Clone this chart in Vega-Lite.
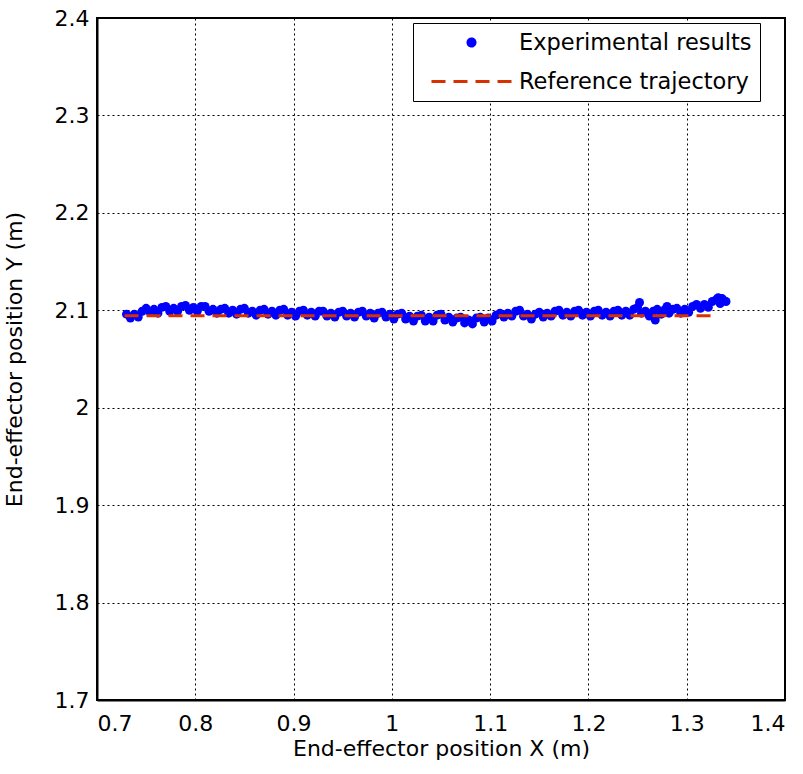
{
  "$schema": "https://vega.github.io/schema/vega-lite/v6.json",
  "width": 688,
  "height": 682,
  "autosize": "none",
  "padding": {"left": 97, "top": 18, "right": 18, "bottom": 74},
  "background": "white",
  "config": {
    "font": "DejaVu Sans",
    "view": {"stroke": "black", "strokeWidth": 2},
    "axis": {
      "grid": true,
      "gridColor": "black",
      "gridDash": [2, 3],
      "gridWidth": 1,
      "gridOpacity": 1,
      "domainColor": "black",
      "domainWidth": 2,
      "tickSize": 0,
      "labelFont": "DejaVu Sans",
      "labelFontSize": 22,
      "labelColor": "black",
      "titleFont": "DejaVu Sans",
      "titleFontSize": 22,
      "titleFontWeight": "normal",
      "titleColor": "black"
    }
  },
  "datasets": {
    "exp": [
      {"x": 0.730, "y": 2.096}, {"x": 0.734, "y": 2.092}, {"x": 0.738, "y": 2.096}, {"x": 0.742, "y": 2.093}, {"x": 0.746, "y": 2.099},
      {"x": 0.750, "y": 2.102}, {"x": 0.754, "y": 2.098}, {"x": 0.758, "y": 2.101}, {"x": 0.762, "y": 2.097}, {"x": 0.766, "y": 2.103},
      {"x": 0.770, "y": 2.104}, {"x": 0.774, "y": 2.099}, {"x": 0.778, "y": 2.102}, {"x": 0.782, "y": 2.099}, {"x": 0.786, "y": 2.104},
      {"x": 0.790, "y": 2.105}, {"x": 0.794, "y": 2.100}, {"x": 0.798, "y": 2.103}, {"x": 0.802, "y": 2.099}, {"x": 0.806, "y": 2.104},
      {"x": 0.810, "y": 2.104}, {"x": 0.814, "y": 2.099}, {"x": 0.818, "y": 2.101}, {"x": 0.822, "y": 2.097}, {"x": 0.826, "y": 2.101},
      {"x": 0.830, "y": 2.102}, {"x": 0.834, "y": 2.097}, {"x": 0.838, "y": 2.100}, {"x": 0.842, "y": 2.096}, {"x": 0.846, "y": 2.101},
      {"x": 0.850, "y": 2.102}, {"x": 0.854, "y": 2.097}, {"x": 0.858, "y": 2.099}, {"x": 0.862, "y": 2.095}, {"x": 0.866, "y": 2.100},
      {"x": 0.870, "y": 2.101}, {"x": 0.874, "y": 2.096}, {"x": 0.878, "y": 2.099}, {"x": 0.882, "y": 2.095}, {"x": 0.886, "y": 2.100},
      {"x": 0.890, "y": 2.101}, {"x": 0.894, "y": 2.095}, {"x": 0.898, "y": 2.098}, {"x": 0.902, "y": 2.094}, {"x": 0.906, "y": 2.099},
      {"x": 0.910, "y": 2.100}, {"x": 0.914, "y": 2.095}, {"x": 0.918, "y": 2.098}, {"x": 0.922, "y": 2.094}, {"x": 0.926, "y": 2.099},
      {"x": 0.930, "y": 2.099}, {"x": 0.934, "y": 2.094}, {"x": 0.938, "y": 2.097}, {"x": 0.942, "y": 2.093}, {"x": 0.946, "y": 2.098},
      {"x": 0.950, "y": 2.099}, {"x": 0.954, "y": 2.094}, {"x": 0.958, "y": 2.097}, {"x": 0.962, "y": 2.093}, {"x": 0.966, "y": 2.098},
      {"x": 0.970, "y": 2.099}, {"x": 0.974, "y": 2.094}, {"x": 0.978, "y": 2.097}, {"x": 0.982, "y": 2.092}, {"x": 0.986, "y": 2.097},
      {"x": 0.990, "y": 2.098}, {"x": 0.994, "y": 2.093}, {"x": 0.998, "y": 2.096}, {"x": 1.002, "y": 2.091}, {"x": 1.006, "y": 2.096},
      {"x": 1.010, "y": 2.097}, {"x": 1.014, "y": 2.091}, {"x": 1.018, "y": 2.094}, {"x": 1.022, "y": 2.089}, {"x": 1.026, "y": 2.094},
      {"x": 1.030, "y": 2.095}, {"x": 1.034, "y": 2.089}, {"x": 1.038, "y": 2.093}, {"x": 1.042, "y": 2.089}, {"x": 1.046, "y": 2.095},
      {"x": 1.050, "y": 2.096}, {"x": 1.054, "y": 2.090}, {"x": 1.058, "y": 2.093}, {"x": 1.062, "y": 2.088}, {"x": 1.066, "y": 2.092},
      {"x": 1.070, "y": 2.093}, {"x": 1.074, "y": 2.087}, {"x": 1.078, "y": 2.090}, {"x": 1.082, "y": 2.086}, {"x": 1.086, "y": 2.092},
      {"x": 1.090, "y": 2.093}, {"x": 1.094, "y": 2.088}, {"x": 1.098, "y": 2.092}, {"x": 1.102, "y": 2.089}, {"x": 1.106, "y": 2.095},
      {"x": 1.110, "y": 2.097}, {"x": 1.114, "y": 2.093}, {"x": 1.118, "y": 2.097}, {"x": 1.122, "y": 2.094}, {"x": 1.126, "y": 2.099},
      {"x": 1.130, "y": 2.100}, {"x": 1.134, "y": 2.094}, {"x": 1.138, "y": 2.096}, {"x": 1.142, "y": 2.091}, {"x": 1.146, "y": 2.096},
      {"x": 1.150, "y": 2.098}, {"x": 1.154, "y": 2.093}, {"x": 1.158, "y": 2.097}, {"x": 1.162, "y": 2.094}, {"x": 1.166, "y": 2.099},
      {"x": 1.170, "y": 2.100}, {"x": 1.174, "y": 2.095}, {"x": 1.178, "y": 2.098}, {"x": 1.182, "y": 2.094}, {"x": 1.186, "y": 2.099},
      {"x": 1.190, "y": 2.100}, {"x": 1.194, "y": 2.095}, {"x": 1.198, "y": 2.098}, {"x": 1.202, "y": 2.094}, {"x": 1.206, "y": 2.099},
      {"x": 1.210, "y": 2.100}, {"x": 1.214, "y": 2.095}, {"x": 1.218, "y": 2.098}, {"x": 1.222, "y": 2.094}, {"x": 1.226, "y": 2.099},
      {"x": 1.230, "y": 2.100}, {"x": 1.234, "y": 2.095}, {"x": 1.238, "y": 2.099}, {"x": 1.242, "y": 2.095}, {"x": 1.246, "y": 2.101},
      {"x": 1.250, "y": 2.103}, {"x": 1.252, "y": 2.108}, {"x": 1.254, "y": 2.097}, {"x": 1.258, "y": 2.099}, {"x": 1.262, "y": 2.094},
      {"x": 1.266, "y": 2.099}, {"x": 1.268, "y": 2.090}, {"x": 1.270, "y": 2.101}, {"x": 1.274, "y": 2.096}, {"x": 1.278, "y": 2.101},
      {"x": 1.280, "y": 2.104}, {"x": 1.282, "y": 2.097}, {"x": 1.286, "y": 2.101}, {"x": 1.290, "y": 2.102}, {"x": 1.294, "y": 2.097},
      {"x": 1.298, "y": 2.101}, {"x": 1.302, "y": 2.098}, {"x": 1.306, "y": 2.104}, {"x": 1.310, "y": 2.106}, {"x": 1.314, "y": 2.102},
      {"x": 1.318, "y": 2.106}, {"x": 1.322, "y": 2.103}, {"x": 1.326, "y": 2.109}, {"x": 1.330, "y": 2.111}, {"x": 1.332, "y": 2.113},
      {"x": 1.334, "y": 2.107}, {"x": 1.336, "y": 2.112}, {"x": 1.338, "y": 2.110}, {"x": 1.340, "y": 2.109}
    ],
    "ref": [
      {"x": 0.728, "y": 2.0945, "series": "Reference trajectory"},
      {"x": 1.327, "y": 2.0945, "series": "Reference trajectory"}
    ]
  },
  "layer": [
    {
      "data": {"name": "exp"},
      "transform": [{"calculate": "'Experimental results'", "as": "series"}],
      "mark": {"type": "point", "filled": true, "size": 80, "opacity": 1},
      "encoding": {
        "x": {
          "field": "x", "type": "quantitative",
          "scale": {"domain": [0.7, 1.4], "nice": false, "zero": false},
          "axis": {"values": [0.7, 0.8, 0.9, 1.0, 1.1, 1.2, 1.3, 1.4], "format": "~g", "title": "End-effector position X (m)", "labelPadding": 13, "titlePadding": 4}
        },
        "y": {
          "field": "y", "type": "quantitative",
          "scale": {"domain": [1.7, 2.4], "nice": false, "zero": false},
          "axis": {"values": [1.7, 1.8, 1.9, 2.0, 2.1, 2.2, 2.3, 2.4], "format": "~g", "title": "End-effector position Y (m)", "labelPadding": 8, "titlePadding": 28}
        },
        "color": {
          "field": "series", "type": "nominal",
          "scale": {"domain": ["Experimental results", "Reference trajectory"], "range": ["#0000ff", "#d83000"]},
          "legend": {
            "title": null,
            "orient": "none",
            "legendX": 316,
            "legendY": 5,
            "strokeColor": "black",
            "fillColor": "white",
            "padding": 8,
            "rowPadding": 16,
            "symbolSize": 400,
            "symbolOffset": 39,
            "labelOffset": 36,
            "labelFont": "DejaVu Sans",
            "labelFontSize": 22.5,
            "labelColor": "black",
            "labelLimit": 400,
            "encoding": {
              "symbols": {
                "shape": {"value": {"expr": "datum.value == 'Experimental results' ? 'circle' : 'M-4,0H4'"}},
                "size": {"value": {"expr": "datum.value == 'Experimental results' ? 50 : 400"}},
                "fill": {"value": {"expr": "datum.value == 'Experimental results' ? '#0000ff' : 'transparent'"}},
                "stroke": {"value": {"expr": "datum.value == 'Experimental results' ? 'transparent' : '#d83000'"}},
                "strokeWidth": {"value": 3},
                "strokeDash": {"value": {"expr": "datum.value == 'Experimental results' ? [1, 0] : [14, 8]"}},
                "opacity": {"value": 1}
              }
            }
          }
        }
      }
    },
    {
      "data": {"name": "ref"},
      "mark": {"type": "line", "strokeWidth": 3, "strokeDash": [14, 8]},
      "encoding": {
        "x": {"field": "x", "type": "quantitative"},
        "y": {"field": "y", "type": "quantitative"},
        "color": {"field": "series", "type": "nominal"}
      }
    }
  ]
}
